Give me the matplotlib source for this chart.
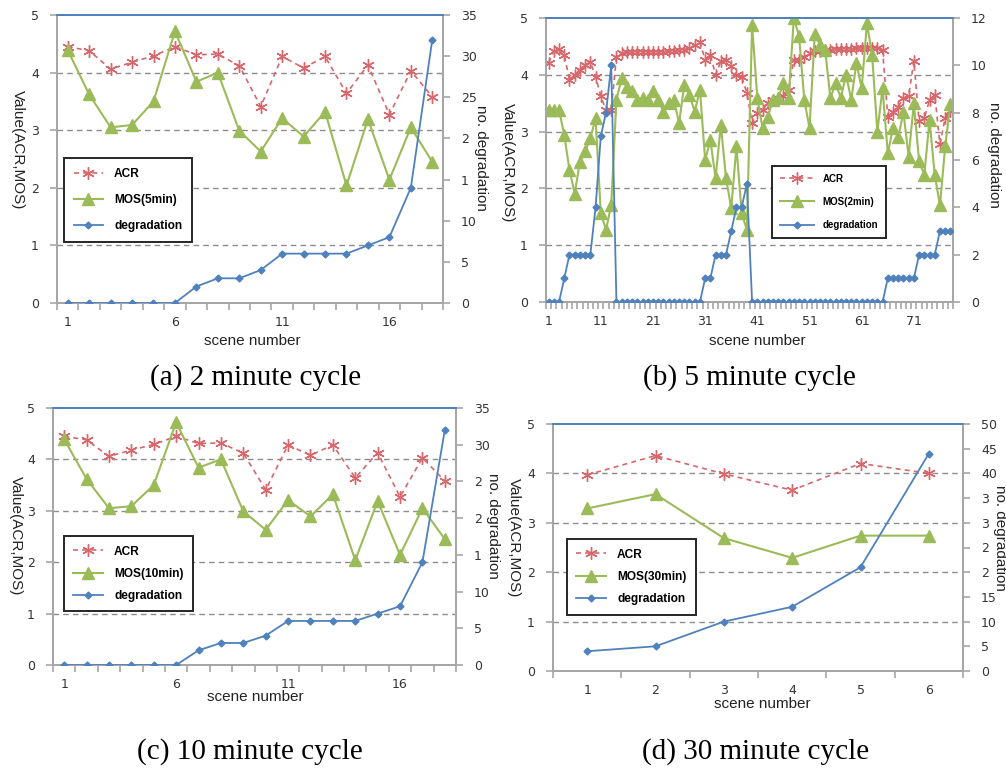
import matplotlib
matplotlib.use("Agg")
import matplotlib.pyplot as plt
import numpy as np

W, H = 1006, 768

# ---------------- data ----------------
# (a) 2 minute cycle and (c) 10 minute cycle
scenes_a = list(range(1, 19))
acr_a = [4.45, 4.38, 4.06, 4.18, 4.29, 4.45, 4.31, 4.32, 4.12, 3.41,
         4.28, 4.08, 4.28, 3.64, 4.13, 3.27, 4.03, 3.58]
mos_a = [4.39, 3.62, 3.05, 3.09, 3.50, 4.72, 3.84, 4.00, 2.99, 2.63,
         3.21, 2.89, 3.32, 2.04, 3.19, 2.14, 3.05, 2.45]
deg_a = [0, 0, 0, 0, 0, 0, 2, 3, 3, 4, 6, 6, 6, 6, 7, 8, 14, 32]

scenes_c = list(range(1, 19))
acr_c = [4.45, 4.38, 4.06, 4.18, 4.29, 4.45, 4.31, 4.32, 4.12, 3.41,
         4.28, 4.08, 4.28, 3.64, 4.13, 3.27, 4.03, 3.58]
mos_c = [4.39, 3.62, 3.05, 3.09, 3.50, 4.72, 3.84, 4.00, 2.99, 2.63,
         3.21, 2.89, 3.32, 2.04, 3.19, 2.14, 3.05, 2.45]
deg_c = [0, 0, 0, 0, 0, 0, 2, 3, 3, 4, 6, 6, 6, 6, 7, 8, 14, 32]

# (b) 5 minute cycle
scenes_b = list(range(1, 79))
acr_b = [4.21, 4.42, 4.45, 4.35, 3.91, 4.00, 4.09, 4.18, 4.22, 3.97,
         3.62, 3.38, 3.38, 4.32, 4.38, 4.40, 4.41, 4.41, 4.41, 4.41,
         4.41, 4.41, 4.41, 4.42, 4.42, 4.43, 4.44, 4.47, 4.52, 4.58,
         4.26, 4.35, 4.00, 4.24, 4.26, 4.15, 4.00, 3.97, 3.68, 3.15,
         3.32, 3.38, 3.50, 3.56, 3.59, 3.62, 3.74, 4.26, 4.26, 4.32,
         4.38, 4.42, 4.42, 4.44, 4.44, 4.45, 4.45, 4.46, 4.46, 4.47,
         4.47, 4.48, 4.48, 4.48, 4.44, 3.26, 3.35, 3.44, 3.59, 3.63,
         4.24, 3.18, 3.24, 3.55, 3.65, 2.78, 3.24, 3.36]
mos_b = [3.38, 3.38, 3.38, 2.94, 2.32, 1.91, 2.47, 2.65, 2.88, 3.24,
         1.56, 1.27, 1.71, 3.56, 3.94, 3.79, 3.71, 3.56, 3.59, 3.56,
         3.71, 3.56, 3.35, 3.50, 3.56, 3.15, 3.82, 3.65, 3.35, 3.74,
         2.50, 2.85, 2.18, 3.12, 2.18, 1.65, 2.74, 1.56, 1.27, 4.88,
         3.59, 3.06, 3.26, 3.56, 3.59, 3.85, 3.59, 5.00, 4.68, 3.56,
         3.06, 4.71, 4.53, 4.44, 3.59, 3.85, 3.59, 4.00, 3.56, 4.21,
         3.76, 4.91, 4.35, 3.00, 3.76, 2.62, 3.06, 2.90, 3.34, 2.56,
         3.50, 2.48, 2.24, 3.20, 2.24, 1.70, 2.74, 3.49]
deg_b = [0, 0, 0, 1, 2, 2, 2, 2, 2, 4,
         7, 8, 10, 0, 0, 0, 0, 0, 0, 0,
         0, 0, 0, 0, 0, 0, 0, 0, 0, 0,
         1, 1, 2, 2, 2, 3, 4, 4, 5, 0,
         0, 0, 0, 0, 0, 0, 0, 0, 0, 0,
         0, 0, 0, 0, 0, 0, 0, 0, 0, 0,
         0, 0, 0, 0, 0, 1, 1, 1, 1, 1,
         1, 2, 2, 2, 2, 3, 3, 3]

# (d) 30 minute cycle
scenes_d = [1, 2, 3, 4, 5, 6]
acr_d = [3.97, 4.36, 3.99, 3.66, 4.20, 4.00]
mos_d = [3.29, 3.58, 2.69, 2.29, 2.74, 2.74]
deg_d = [4, 5, 10, 13, 21, 44]

captions = ["(a) 2 minute cycle", "(b) 5 minute cycle",
            "(c) 10 minute cycle", "(d) 30 minute cycle"]
mos_labels = ["MOS(5min)", "MOS(2min)", "MOS(10min)", "MOS(30min)"]
x_tick_labels_a = [1, 6, 11, 16]
x_tick_labels_b = [1, 11, 21, 31, 41, 51, 61, 71]
x_tick_labels_d = [1, 2, 3, 4, 5, 6]
right_ticks_a = [0, 5, 10, 15, 20, 25, 30, 35]
right_labels_a = ["0", "5", "10", "1", "2", "25", "30", "35"]
right_ticks_b = [0, 2, 4, 6, 8, 10, 12]
right_labels_b = ["0", "2", "4", "6", "8", "10", "12"]
right_ticks_c = [0, 5, 10, 15, 20, 25, 30, 35]
right_labels_c = ["0", "5", "10", "1", "2", "2", "30", "35"]
right_ticks_d = [0, 5, 10, 15, 20, 25, 30, 35, 40, 45, 50]
right_labels_d = ["0", "5", "10", "15", "2", "2", "3", "3", "40", "45", "50"]

# ---------------- styles ----------------
C_ACR = "#D7676A"
C_MOS = "#9BBB59"
C_DEG = "#4F81BD"
C_SPINE = "#A6A6A6"
C_GRID = "#8C8C8C"
C_TICK = "#333333"
TICK_FS = 9
LABEL_FS = 11
SANS = "Liberation Sans"

fig = plt.figure(figsize=(W / 100, H / 100), dpi=100)
fig.patch.set_facecolor("white")


def rect(l, t, r, b):
    return [l / W, 1 - b / H, (r - l) / W, (b - t) / H]


def panel(box, scenes, acr, mos, deg, mos_label, xlabels, rticks, rlabels,
          rmax, leg_anchor, leg_fs, leg_sp, leg_hl, ms_scale=1.0):
    ax = fig.add_axes(rect(*box))
    ax2 = ax.twinx()
    n = len(scenes)
    ax.set_xlim(0.5, n + 0.5)
    ax.set_ylim(0, 5)
    ax2.set_ylim(0, rmax)

    for a in (ax, ax2):
        for s in ("left", "right", "bottom"):
            a.spines[s].set_color(C_SPINE)
            a.spines[s].set_linewidth(1.3)
        a.spines["top"].set_color(C_DEG)
        a.spines["top"].set_linewidth(1.3)

    for yv in [1, 2, 3, 4]:
        ax.axhline(yv, color=C_GRID, lw=1.0, ls=(0, (4, 3)), zorder=0)

    # x ticks: marks at category boundaries, labels at category centres
    ax.set_xticks(np.arange(0.5, n + 1.0, 1.0))
    ax.set_xticklabels([])
    ax.set_xticks(xlabels, minor=True)
    ax.set_xticklabels([str(v) for v in xlabels], minor=True)
    ax.tick_params(axis="x", which="major", length=5, color=C_SPINE,
                   width=1.2, direction="out")
    ax.tick_params(axis="x", which="minor", length=0, pad=9,
                   labelsize=TICK_FS, labelcolor=C_TICK)

    ax.set_yticks([0, 1, 2, 3, 4, 5])
    ax.tick_params(axis="y", length=5, color=C_SPINE, width=1.2, pad=8,
                   labelsize=TICK_FS, labelcolor=C_TICK)
    ax2.set_yticks(rticks)
    ax2.set_yticklabels(rlabels)
    ax2.tick_params(axis="y", length=5, color=C_SPINE, width=1.2, pad=8,
                    labelsize=TICK_FS, labelcolor=C_TICK)

    l1, = ax.plot(scenes, acr, color=C_ACR, lw=1.2, ls=(0, (3, 2.5)),
                  marker=(6, 2, 0), ms=9 * ms_scale, mew=1.0,
                  mec=C_ACR, label="ACR", zorder=3)
    l2, = ax.plot(scenes, mos, color=C_MOS, lw=1.5, marker="^",
                  ms=9 * ms_scale, mfc=C_MOS, mec=C_MOS,
                  label=mos_label, zorder=4)
    l3, = ax2.plot(scenes, deg, color=C_DEG, lw=1.3, marker="D",
                   ms=3.5, mfc=C_DEG, mec=C_DEG, label="degradation",
                   zorder=5)
    leg = ax2.legend(handles=[l1, l2, l3], loc="upper left",
                     bbox_to_anchor=leg_anchor, borderaxespad=0,
                     fancybox=False, framealpha=1, edgecolor="#262626",
                     prop={"weight": "bold", "size": leg_fs,
                           "family": SANS},
                     handlelength=leg_hl, labelspacing=leg_sp,
                     borderpad=0.8, handletextpad=0.9)
    leg.get_frame().set_linewidth(1.4)
    return ax, ax2


panel((57, 15, 443, 303), scenes_a, acr_a, mos_a, deg_a, mos_labels[0],
      x_tick_labels_a, right_ticks_a, right_labels_a, 35, (0.018, 0.503),
      8.6, 1.2, 2.5)
panel((546, 18, 953, 302), scenes_b, acr_b, mos_b, deg_b, mos_labels[1],
      x_tick_labels_b, right_ticks_b, right_labels_b, 12, (0.555, 0.479),
      7.0, 1.35, 3.5, ms_scale=0.95)
panel((53, 408, 456, 665), scenes_c, acr_c, mos_c, deg_c, mos_labels[2],
      x_tick_labels_a, right_ticks_c, right_labels_c, 35, (0.027, 0.502),
      8.6, 0.85, 2.5)
panel((553, 424, 963, 671), scenes_d, acr_d, mos_d, deg_d, mos_labels[3],
      x_tick_labels_d, right_ticks_d, right_labels_d, 50, (0.034, 0.534),
      8.6, 0.85, 2.5)


def ftext(x, y, s, **kw):
    fig.text(x / W, 1 - y / H, s, ha="center", va="center", **kw)


# axis labels
for (lx, ly), (rx, ry), (sx, sy) in [
        ((18, 150), (481, 158), (252, 341)),
        ((508, 163), (994, 155), (757, 341)),
        ((16, 536), (493, 526), (255, 697)),
        ((514, 538), (1000, 538), (762, 704))]:
    ftext(lx, ly, "Value(ACR,MOS)", rotation=-90, fontsize=LABEL_FS,
          color="#222222", family=SANS)
    ftext(rx, ry, "no. degradation", rotation=-90, fontsize=LABEL_FS,
          color="#222222", family=SANS)
    ftext(sx, sy, "scene number", fontsize=LABEL_FS, color="#222222",
          family=SANS)

# captions
for (cx, cy), cap in zip([(256, 378), (749, 378), (250, 752), (756, 752)],
                         captions):
    ftext(cx, cy, cap, fontsize=21, family="Liberation Serif", color="black")

fig.savefig("out.png", dpi=100, facecolor="white")
